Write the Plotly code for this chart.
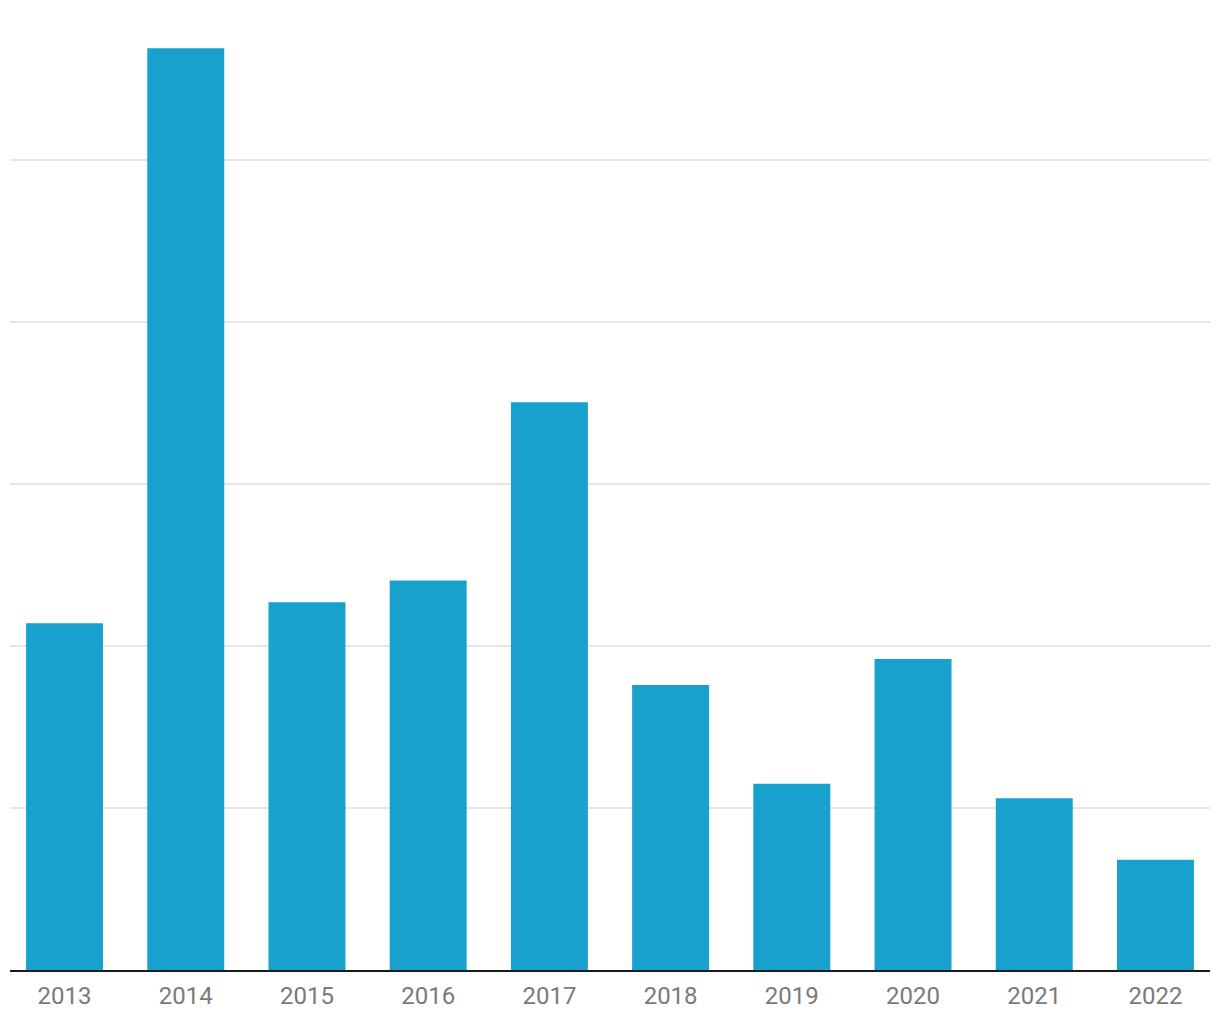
import plotly.graph_objects as go

years = ["2013", "2014", "2015", "2016", "2017", "2018", "2019", "2020", "2021", "2022"]
values = [42.8, 113.8, 45.4, 48.1, 70.1, 35.2, 23.0, 38.4, 21.2, 13.6]

fig = go.Figure()
fig.add_trace(go.Bar(
    x=years, y=values,
    marker=dict(color="#19A1CD", line=dict(width=0)),
    hoverinfo="x+y",
))

fig.update_layout(
    width=1220, height=1020,
    margin=dict(l=10, r=10, t=0, b=50),
    paper_bgcolor="white", plot_bgcolor="white",
    bargap=0.365,
    showlegend=False,
    font=dict(family="Roboto", size=24, color="#7A7A7A"),
)
fig.update_xaxes(
    type="category",
    range=[-0.45, 9.45],
    showgrid=False,
    showline=True, linecolor="#1a1a1a", linewidth=2,
    ticks="", ticklabelstandoff=3,
    tickfont=dict(family="Roboto", size=24, color="#7A7A7A"),
)
fig.update_yaxes(
    range=[0, 970 / 162 * 20],
    dtick=20, tick0=0,
    showgrid=True, gridcolor="#E6E6E6", gridwidth=2,
    showticklabels=False, zeroline=False, ticks="",
)

fig.write_html("out.html")
